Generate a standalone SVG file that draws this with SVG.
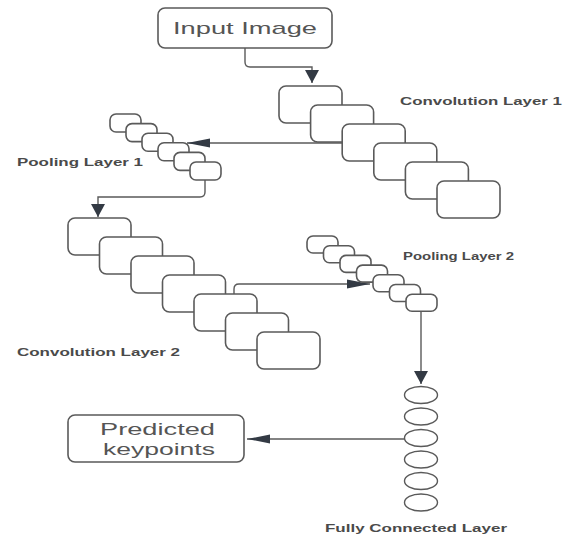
<svg xmlns="http://www.w3.org/2000/svg" width="564" height="538" viewBox="0 0 564 538">
<style>
.box{fill:#fff;stroke:#5a5a5a;stroke-width:1.6}
.fc{fill:#fff;stroke:#5a5a5a;stroke-width:1.4}
.conn{fill:none;stroke:#5a5a5a;stroke-width:1.4}
.lbl{font-family:"Liberation Sans",Arial,sans-serif;font-weight:bold;font-size:11px;fill:#4a4a4a}
.big{font-family:"Liberation Sans",Arial,sans-serif;font-size:17px;fill:#555}
</style>
<defs>
<marker id="ah" markerUnits="userSpaceOnUse" markerWidth="24" markerHeight="10" refX="23" refY="5" orient="auto" viewBox="0 0 24 10">
<path d="M0,0.5 L23,5 L0,9.5 z" fill="#333a44"/>
</marker>
<marker id="av" markerUnits="userSpaceOnUse" markerWidth="14" markerHeight="15" refX="13" refY="7.5" orient="auto" viewBox="0 0 14 15">
<path d="M0,0.5 L13,7.5 L0,14.5 z" fill="#333a44"/>
</marker>
</defs>
<g id="connectors">
<path class="conn" d="M245,48 V62 Q245,67 250,67 H312 V83" marker-end="url(#av)"/>
<path class="conn" d="M342,143 H187" marker-end="url(#ah)"/>
<path class="conn" d="M205,180 V192 Q205,197 200,197 H98 V217" marker-end="url(#av)"/>
<path class="conn" d="M234,294 V289 Q234,284 239,284 H370" marker-end="url(#ah)"/>
<path class="conn" d="M421,311 V384" marker-end="url(#av)"/>
<path class="conn" d="M404,439 H247" marker-end="url(#ah)"/>
</g>
<g id="input-image">
<rect class="box" x="158" y="8" width="174" height="40" rx="7"/>
<text class="big" x="173" y="34" textLength="144" lengthAdjust="spacingAndGlyphs">Input Image</text>
</g>
<g id="conv1">
<rect class="box" x="279" y="86" width="63" height="37" rx="7"/>
<rect class="box" x="310.6" y="105" width="63" height="37" rx="7"/>
<rect class="box" x="342.2" y="124" width="63" height="37" rx="7"/>
<rect class="box" x="373.8" y="143" width="63" height="37" rx="7"/>
<rect class="box" x="405.4" y="162" width="63" height="37" rx="7"/>
<rect class="box" x="437" y="181" width="63" height="37" rx="7"/>
<text class="lbl" x="400" y="105" textLength="162" lengthAdjust="spacingAndGlyphs">Convolution Layer 1</text>
</g>
<g id="pool1">
<rect class="box" x="110" y="114" width="31" height="18" rx="6"/>
<rect class="box" x="126" y="123.6" width="31" height="18" rx="6"/>
<rect class="box" x="142" y="133.2" width="31" height="18" rx="6"/>
<rect class="box" x="158" y="142.8" width="31" height="18" rx="6"/>
<rect class="box" x="174" y="152.4" width="31" height="18" rx="6"/>
<rect class="box" x="190" y="162" width="31" height="18" rx="6"/>
<text class="lbl" x="17" y="166" textLength="126" lengthAdjust="spacingAndGlyphs">Pooling Layer 1</text>
</g>
<g id="conv2">
<rect class="box" x="68" y="218" width="63" height="37" rx="7"/>
<rect class="box" x="99.5" y="237" width="63" height="37" rx="7"/>
<rect class="box" x="131" y="256" width="63" height="37" rx="7"/>
<rect class="box" x="162.5" y="275" width="63" height="37" rx="7"/>
<rect class="box" x="194" y="294" width="63" height="37" rx="7"/>
<rect class="box" x="225.5" y="313" width="63" height="37" rx="7"/>
<rect class="box" x="257" y="332" width="63" height="37" rx="7"/>
<text class="lbl" x="17" y="356" textLength="163" lengthAdjust="spacingAndGlyphs">Convolution Layer 2</text>
</g>
<g id="pool2">
<rect class="box" x="307" y="236" width="31" height="17" rx="6"/>
<rect class="box" x="323.5" y="245.7" width="31" height="17" rx="6"/>
<rect class="box" x="340" y="255.4" width="31" height="17" rx="6"/>
<rect class="box" x="356.5" y="265.1" width="31" height="17" rx="6"/>
<rect class="box" x="373" y="274.8" width="31" height="17" rx="6"/>
<rect class="box" x="389.5" y="284.5" width="31" height="17" rx="6"/>
<rect class="box" x="406" y="294.2" width="31" height="17" rx="6"/>
<text class="lbl" x="403" y="260" textLength="111" lengthAdjust="spacingAndGlyphs">Pooling Layer 2</text>
</g>
<g id="fc">
<ellipse class="fc" cx="421" cy="395" rx="16.5" ry="8.5"/>
<ellipse class="fc" cx="421" cy="416.5" rx="16.5" ry="8.5"/>
<ellipse class="fc" cx="421" cy="438" rx="16.5" ry="8.5"/>
<ellipse class="fc" cx="421" cy="459.5" rx="16.5" ry="8.5"/>
<ellipse class="fc" cx="421" cy="481" rx="16.5" ry="8.5"/>
<ellipse class="fc" cx="421" cy="502.5" rx="16.5" ry="8.5"/>
<text class="lbl" x="325" y="532" textLength="182" lengthAdjust="spacingAndGlyphs">Fully Connected Layer</text>
</g>
<g id="predicted">
<rect class="box" x="68" y="415" width="176" height="47" rx="7"/>
<text class="big" x="100" y="435" textLength="115" lengthAdjust="spacingAndGlyphs">Predicted</text>
<text class="big" x="103" y="455" textLength="112" lengthAdjust="spacingAndGlyphs">keypoints</text>
</g>
</svg>
